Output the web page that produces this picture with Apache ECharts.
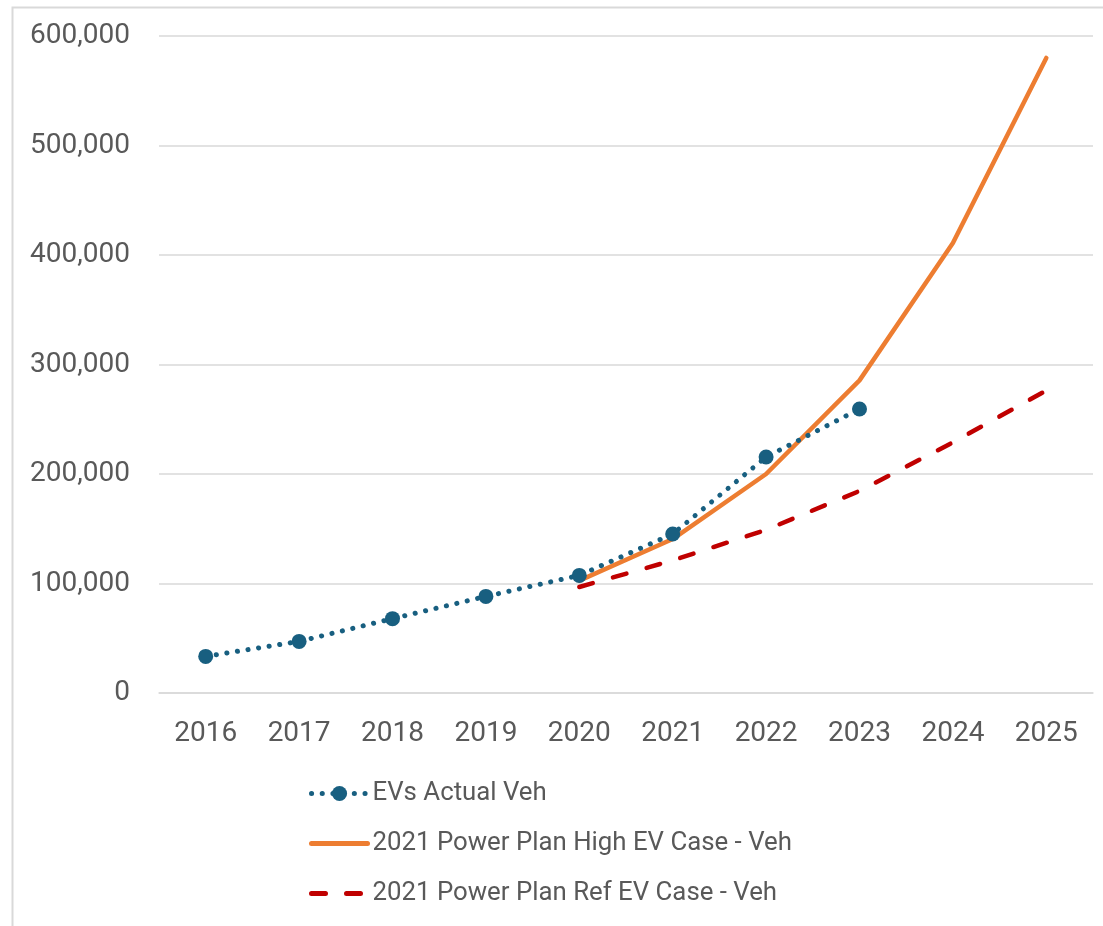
<!DOCTYPE html>
<html>
<head>
<meta charset="utf-8">
<script src="https://cdn.jsdelivr.net/npm/echarts@6/dist/echarts.min.js"></script>
<style>
  html, body { margin: 0; padding: 0; background: #fff; }
  #chart { width: 1103px; height: 926px; }
</style>
</head>
<body>
<div id="chart"></div>
<script>
const years = ['2016', '2017', '2018', '2019', '2020', '2021', '2022', '2023', '2024', '2025'];
const actualVeh = [33400, 47100, 67900, 88200, 107400, 145200, 215500, 259400, null, null];
const highCase = [null, null, null, null, 102600, 140600, 200000, 285500, 411000, 580000];
const refCase = [null, null, null, null, 96800, 121100, 149000, 184500, 228900, 276300];

const seriesNames = [
  'EVs Actual Veh',
  '2021 Power Plan High EV Case - Veh',
  '2021 Power Plan Ref EV Case - Veh'
];

const textColor = '#595959';
const fontFamily = 'Roboto, "Noto Sans", sans-serif';

const chart = echarts.init(document.getElementById('chart'));

const option = {
  animation: false,
  backgroundColor: '#fff',
  grid: {
    left: 159,
    right: 10,
    top: 36,
    bottom: 233
  },
  graphic: [
    {
      type: 'polyline',
      shape: { points: [[12.5, 926], [12.5, 7.5], [1103, 7.5]] },
      style: { stroke: '#d9d9d9', lineWidth: 2, fill: null },
      silent: true
    }
  ],
  legend: {
    orient: 'vertical',
    left: 304,
    top: 773,
    itemWidth: 56,
    itemHeight: 19,
    itemGap: 19,
    lineStyle: { width: 5 },
    data: [
      { name: seriesNames[0] },
      { name: seriesNames[1], itemStyle: { opacity: 0 } },
      { name: seriesNames[2], itemStyle: { opacity: 0 } }
    ],
    textStyle: {
      color: textColor,
      fontSize: 25.8,
      fontFamily: fontFamily,
      lineHeight: 31
    }
  },
  xAxis: {
    type: 'category',
    data: years,
    boundaryGap: true,
    axisLine: { show: true, lineStyle: { color: '#d9d9d9', width: 1.5 } },
    axisTick: { show: false },
    axisLabel: {
      color: textColor,
      fontSize: 28,
      fontFamily: fontFamily,
      margin: 27
    }
  },
  yAxis: {
    type: 'value',
    min: 0,
    max: 600000,
    interval: 100000,
    axisLine: { show: false },
    axisTick: { show: false },
    splitLine: { lineStyle: { color: '#d9d9d9', width: 1.5 } },
    axisLabel: {
      color: textColor,
      fontSize: 28,
      fontFamily: fontFamily,
      margin: 29,
      formatter: v => v.toLocaleString('en-US')
    }
  },
  series: [
    {
      name: seriesNames[0],
      type: 'line',
      data: actualVeh,
      symbol: 'circle',
      symbolSize: 15,
      showSymbol: true,
      itemStyle: { color: '#185f80' },
      lineStyle: {
        color: '#185f80',
        width: 5,
        type: [0.1, 10.6],
        cap: 'round'
      },
      z: 4
    },
    {
      name: seriesNames[1],
      type: 'line',
      data: highCase,
      symbol: 'none',
      itemStyle: { color: '#ed7d31' },
      lineStyle: { color: '#ed7d31', width: 4.5, cap: 'round' },
      z: 3
    },
    {
      name: seriesNames[2],
      type: 'line',
      data: refCase,
      symbol: 'none',
      itemStyle: { color: '#c00000' },
      lineStyle: {
        color: '#c00000',
        width: 4.5,
        type: [14, 21],
        cap: 'round'
      },
      z: 2
    }
  ]
};

chart.setOption(option);
</script>
</body>
</html>
